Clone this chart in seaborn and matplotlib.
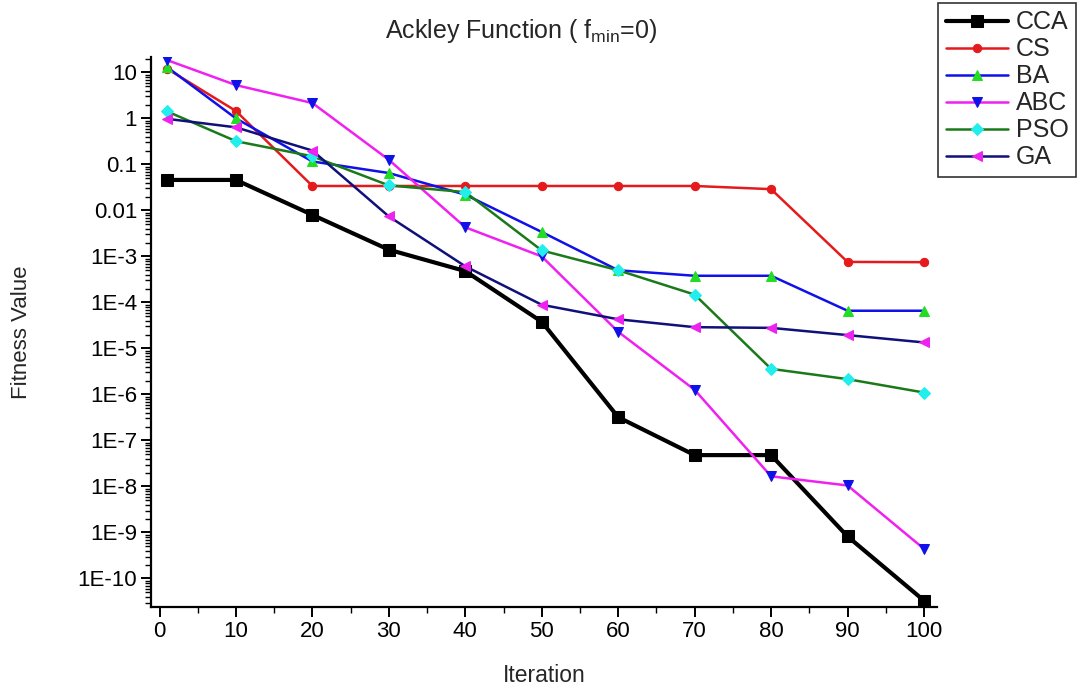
import numpy as np
import pandas as pd
import matplotlib
matplotlib.use("Agg")
import matplotlib.pyplot as plt
import seaborn as sns
from matplotlib.ticker import FixedLocator, NullFormatter, MultipleLocator

iterations = [1, 10, 20, 30, 40, 50, 60, 70, 80, 90, 100]

cca = [0.046, 0.046, 8.0e-3, 1.4e-3, 4.8e-4, 3.8e-5, 3.2e-7, 4.8e-8, 4.8e-8, 8.2e-10, 3.3e-11]
cs = [12.0, 1.45, 0.034, 0.034, 0.034, 0.034, 0.034, 0.034, 0.029, 7.6e-4, 7.5e-4]
ba = [13.0, 1.0, 0.116, 0.065, 0.022, 3.4e-3, 5.0e-4, 3.8e-4, 3.8e-4, 6.6e-5, 6.6e-5]
abc = [18.5, 5.3, 2.16, 0.126, 4.3e-3, 1.0e-3, 2.3e-5, 1.26e-6, 1.66e-8, 1.05e-8, 4.4e-10]
pso = [1.42, 0.32, 0.15, 0.035, 0.025, 1.35e-3, 5.0e-4, 1.48e-4, 3.6e-6, 2.15e-6, 1.1e-6]
ga = [0.98, 0.64, 0.2, 7.4e-3, 6.1e-4, 8.9e-5, 4.3e-5, 2.9e-5, 2.8e-5, 1.95e-5, 1.35e-5]

names = ["CCA", "CS", "BA", "ABC", "PSO", "GA"]
y_tick_vals = [10, 1, 0.1, 0.01, 1e-3, 1e-4, 1e-5, 1e-6, 1e-7, 1e-8, 1e-9, 1e-10]
y_tick_labels = ["10", "1", "0.1", "0.01", "1E-3", "1E-4", "1E-5", "1E-6",
                 "1E-7", "1E-8", "1E-9", "1E-10"]

sns.set_style("ticks")
plt.rcParams['font.family'] = ['Liberation Sans', 'DejaVu Sans']
plt.rcParams['mathtext.fontset'] = 'custom'
plt.rcParams['mathtext.rm'] = 'Liberation Sans'
plt.rcParams['mathtext.it'] = 'Liberation Sans'

fig = plt.figure(figsize=(10.87, 6.91), dpi=100)
ax = fig.add_axes([0.139, 0.1216, 0.723, 0.796])

# (line colour, marker, marker colour, line width, marker size)
styles = {
    "CCA": ("black", "s", "black", 3.0, 8.5),
    "CS": ("#e41a1c", "o", "#e41a1c", 1.8, 6),
    "BA": ("#1010e8", "^", "#22dd22", 1.8, 7),
    "ABC": ("#f020f0", "v", "#1010e8", 1.8, 7),
    "PSO": ("#1a7a1a", "D", "#22eeee", 1.8, 6),
    "GA": ("#10107a", "<", "#ee22ee", 1.8, 7),
}
series = dict(zip(names, [cca, cs, ba, abc, pso, ga]))

for name in names:
    lc, mk, mc, lw, ms = styles[name]
    sns.lineplot(x=iterations, y=series[name], ax=ax, color=lc, linewidth=lw,
                 marker=mk, markersize=ms, markerfacecolor=mc,
                 markeredgecolor=mc, label=name)

ax.set_yscale("log")
ax.set_xlim(-1.1, 101.7)
ax.set_ylim(2.4e-11, 21.7)
ax.yaxis.set_major_locator(FixedLocator(y_tick_vals))
ax.set_yticklabels(y_tick_labels)
minor = [m * 10.0 ** e for e in range(-11, 2) for m in range(2, 10)]
ax.yaxis.set_minor_locator(FixedLocator(minor))
ax.yaxis.set_minor_formatter(NullFormatter())
ax.xaxis.set_major_locator(MultipleLocator(10))
ax.xaxis.set_minor_locator(MultipleLocator(5))

sns.despine(ax=ax)
for s in ["left", "bottom"]:
    ax.spines[s].set_linewidth(1.6)
    ax.spines[s].set_color("black")
ax.tick_params(axis="both", which="major", direction="out", length=7, width=1.4,
               labelsize=16, colors="black", pad=3)
ax.tick_params(axis="both", which="minor", direction="out", length=4, width=1.0,
               colors="black")

ax.set_xlabel("Iteration", fontsize=16.5)
ax.set_ylabel("Fitness Value", fontsize=16)
ax.xaxis.set_label_coords(0.5, -0.104)
ax.yaxis.set_label_coords(-0.152, 0.5)
fig.text(0.479, 0.955, r"Ackley Function ( f$_{\mathrm{min}}$=0)", ha="center",
         va="center", fontsize=18)

leg = ax.legend(loc="upper left", bbox_to_anchor=(0.863, 0.996),
                bbox_transform=fig.transFigure, fontsize=18, frameon=True,
                fancybox=False, edgecolor="black", handlelength=2.5,
                handletextpad=0.3, borderpad=0.3, labelspacing=0.12,
                borderaxespad=0)
leg.get_frame().set_linewidth(1.2)

fig.savefig("out.png", dpi=100)
